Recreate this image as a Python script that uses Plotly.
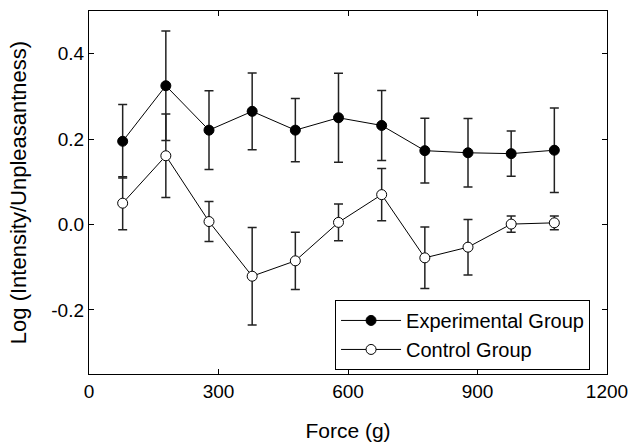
import plotly.graph_objects as go

force = [78, 178, 278, 378, 478, 578, 678, 778, 878, 978, 1078]
exp_mean = [0.195, 0.325, 0.221, 0.265, 0.221, 0.250, 0.232, 0.173, 0.168, 0.166, 0.174]
exp_err = [0.086, 0.128, 0.092, 0.090, 0.074, 0.104, 0.082, 0.076, 0.080, 0.053, 0.099]
ctl_mean = [0.050, 0.161, 0.007, -0.121, -0.085, 0.005, 0.070, -0.078, -0.053, 0.001, 0.004]
ctl_err = [0.062, 0.098, 0.047, 0.114, 0.067, 0.043, 0.061, 0.072, 0.065, 0.019, 0.016]

x_ticks = [0, 300, 600, 900, 1200]
y_ticks = [-0.2, 0.0, 0.2, 0.4]
y_ticktext = ["-0.2", "0.0", "0.2", "0.4"]

FONT = "Liberation Sans, Arial, sans-serif"

fig = go.Figure()
fig.add_trace(go.Scatter(
    x=force, y=exp_mean, name="Experimental Group", mode="lines+markers",
    line=dict(color="black", width=1),
    marker=dict(symbol="circle", size=10, color="black", line=dict(color="black", width=1)),
    error_y=dict(type="data", array=exp_err, visible=True, color="#222222", thickness=1.5, width=4.5),
))
fig.add_trace(go.Scatter(
    x=force, y=ctl_mean, name="Control Group", mode="lines+markers",
    line=dict(color="black", width=1),
    marker=dict(symbol="circle", size=10, color="white", line=dict(color="black", width=1)),
    error_y=dict(type="data", array=ctl_err, visible=True, color="#222222", thickness=1.5, width=4.5),
))

axis_common = dict(
    showline=True, linecolor="black", linewidth=1.3, mirror="allticks",
    ticks="inside", ticklen=5, tickcolor="black", tickwidth=1,
    showgrid=False, zeroline=False, automargin=False,
    tickfont=dict(family=FONT, size=19, color="black"),
)

fig.update_xaxes(
    range=[0, 1200], tickvals=x_ticks,
    title=dict(text="Force (g)", font=dict(family=FONT, size=21, color="black"), standoff=22),
    **axis_common,
)
fig.update_yaxes(
    range=[-0.35, 0.5], tickvals=y_ticks, ticktext=y_ticktext,
    title=dict(text="Log (Intensity/Unpleasantness)", font=dict(family=FONT, size=22, color="black"), standoff=18),
    **axis_common,
)

fig.update_layout(
    width=632, height=444,
    margin=dict(l=89, r=25, t=11, b=70),
    paper_bgcolor="white", plot_bgcolor="white",
    font=dict(family=FONT, size=19, color="black"),
    showlegend=True,
    legend=dict(
        x=0.475, y=0.204, xanchor="left", yanchor="top",
        bgcolor="white", bordercolor="black", borderwidth=1,
        itemwidth=60,
        font=dict(family=FONT, size=20, color="black"),
    ),
)

fig.write_html("out.html")
